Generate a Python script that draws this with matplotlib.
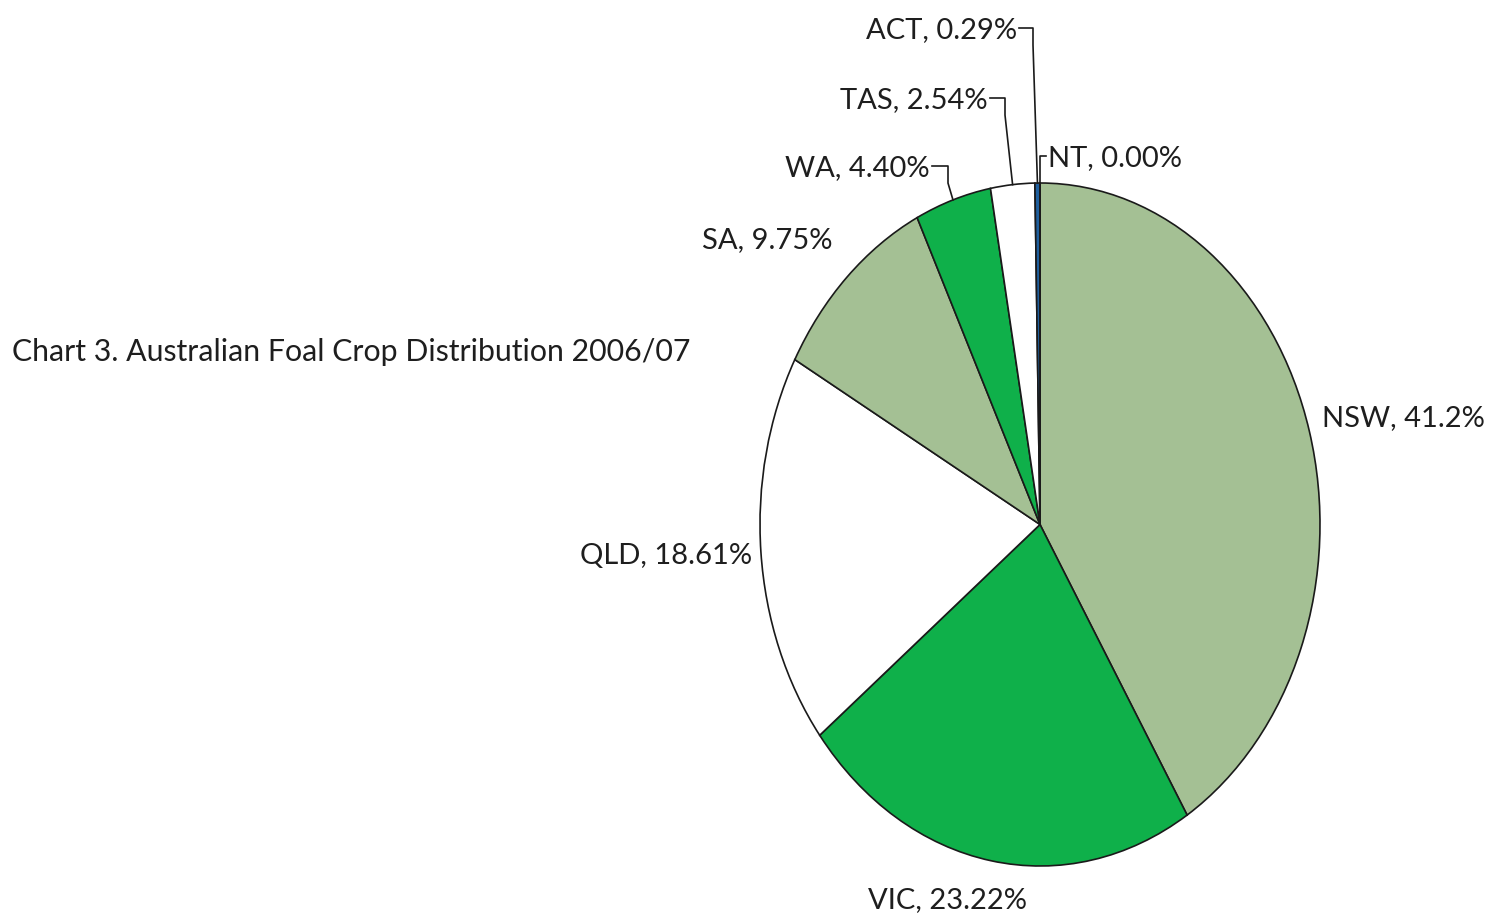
import numpy as np
import matplotlib.pyplot as plt

plt.rcParams['font.family'] = ['Lato', 'DejaVu Sans']

states = ['NSW', 'VIC', 'QLD', 'SA', 'WA', 'TAS', 'ACT', 'NT']
shares = [41.2, 23.22, 18.61, 9.75, 4.40, 2.54, 0.29, 0.00]
labels = ['NSW, 41.2%', 'VIC, 23.22%', 'QLD, 18.61%', 'SA, 9.75%',
          'WA, 4.40%', 'TAS, 2.54%', 'ACT, 0.29%', 'NT, 0.00%']
colors = ['#a4c094', '#0fb04a', '#ffffff', '#a4c094',
          '#0fb04a', '#ffffff', '#1f5f9e', '#1f5f9e']

W, H = 1494, 919
fig = plt.figure(figsize=(W / 100, H / 100), dpi=100)

# pie is stretched into an ellipse: left 760, right 1320, top 183, bottom 866 px
pl, pr, pt, pb = 760, 1320, 183, 866
ax = fig.add_axes([pl / W, 1 - pb / H, (pr - pl) / W, (pb - pt) / H])

wedges, _ = ax.pie(shares, colors=colors, startangle=90, counterclock=False,
                   radius=1.0, normalize=True,
                   wedgeprops=dict(edgecolor='#1a1a1a', linewidth=1.2))
ax.set_xlim(-1, 1)
ax.set_ylim(-1, 1)
ax.set_aspect('auto')
ax.axis('off')


def px2data(px, py):
    return ((px - pl) / (pr - pl) * 2 - 1, 1 - (py - pt) / (pb - pt) * 2)


# mid angle of each wedge (degrees)
cum = np.cumsum([0] + shares)
mids = 90 - 360 * (cum[:-1] + cum[1:]) / 2 / cum[-1]

fs = 21
txt = '#1e1e1e'
# labels without leader lines: (pixel x, pixel y, ha)
plain = {'NSW': (1322, 418, 'left'), 'VIC': (948, 900, 'center'),
         'QLD': (752, 556, 'right'), 'SA': (832, 240, 'right')}
for s, lab in zip(states, labels):
    if s in plain:
        x, y, ha = plain[s]
        ax.text(*px2data(x, y), lab, ha=ha, va='center', fontsize=fs,
                color=txt, clip_on=False)

# labels with elbow leader lines: text end (px), elbow x (px)
lead = {'ACT': (1017, 30, 1033, 'right'), 'TAS': (988, 100, 1005, 'right'),
        'WA': (930, 168, 948, 'right'), 'NT': (1048, 158, 1040, 'left')}
for i, (s, lab) in enumerate(zip(states, labels)):
    if s not in lead:
        continue
    x, y, ex, ha = lead[s]
    a = np.deg2rad(mids[i])
    tx, ty = np.cos(a), np.sin(a)
    ax.text(*px2data(x, y), lab, ha=ha, va='center', fontsize=fs,
            color=txt, clip_on=False)
    x0, y0 = px2data(x + (2 if ha == 'right' else -2), y - 2)
    x1, _ = px2data(ex, y)
    ax.plot([x0, x1, x1, tx], [y0, y0, y0 - 0.05, ty], color='#1a1a1a',
            lw=1.2, clip_on=False)

fig.text(12 / W, 1 - 352 / H, 'Chart 3. Australian Foal Crop Distribution 2006/07',
         ha='left', va='center', fontsize=21.8, color=txt)

fig.savefig('out.png', dpi=100)
